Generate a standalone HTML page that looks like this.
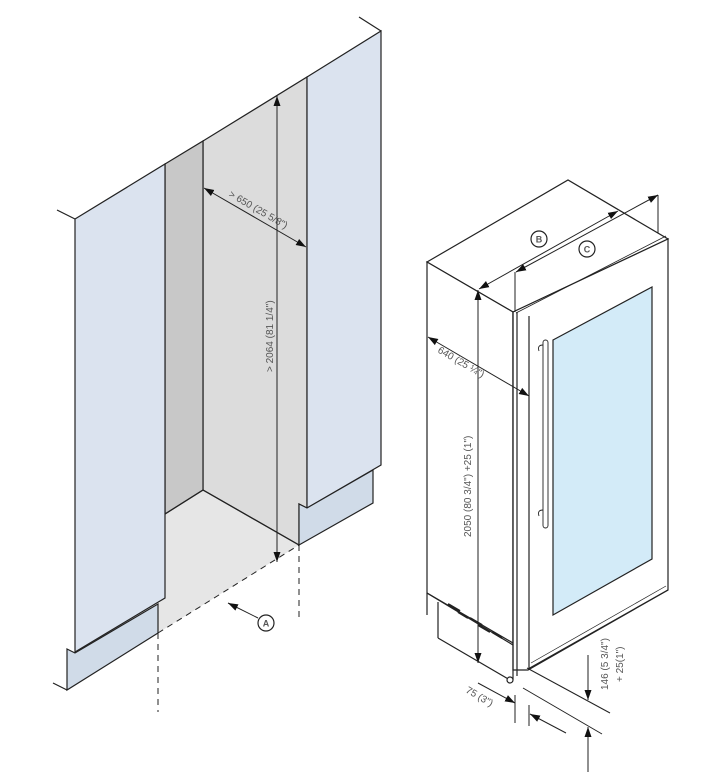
<!DOCTYPE html>
<html><head><meta charset="utf-8"><style>html,body{margin:0;padding:0;background:#fff}svg{display:block}text{font-family:"Liberation Sans",sans-serif;fill:#555}</style></head><body>
<svg width="720" height="784" viewBox="0 0 720 784" xmlns="http://www.w3.org/2000/svg">
<defs>
<marker id="ah" viewBox="0 0 10 10" refX="10" refY="5" markerWidth="10" markerHeight="10" markerUnits="userSpaceOnUse" orient="auto-start-reverse"><path d="M0,1.5 L10,5 L0,8.5 z" fill="#111"/></marker>
</defs>
<g stroke="#222" stroke-width="1.2" fill="none">
<polygon points="165,514 203,490 299,545 158,633 158,604 165,598" fill="#e6e6e6" stroke="none"/>
<polygon points="203,141 307,77 307,508 299,504 299,545 203,490" fill="#dcdcdc"/>
<polygon points="165,164 203,141 203,490 165,514" fill="#c8c8c8"/>
<polygon points="307,77 381,31 381,465 307,508" fill="#dbe3ef"/>
<polygon points="299,504 307,508 373,470 373,503 299,545" fill="#d0dbe8"/>
<polygon points="75,219 165,164 165,598 75,652" fill="#dbe3ef"/>
<polygon points="67,649 75,653 158,604 158,633 67,690" fill="#d0dbe8"/>
<line x1="57" y1="210" x2="75" y2="219"/>
<line x1="359" y1="17" x2="381" y2="31"/>
<line x1="53" y1="683" x2="67" y2="690"/>
<line x1="203" y1="490" x2="299" y2="545"/>
<line x1="165" y1="514" x2="203" y2="490"/>
<g stroke-dasharray="6,5" stroke-width="1">
<line x1="158" y1="633" x2="299" y2="545"/>
<line x1="158" y1="633" x2="158" y2="712"/>
<line x1="299" y1="545" x2="299" y2="620"/>
</g>
<line x1="277" y1="96" x2="277" y2="562" stroke-width="1" marker-start="url(#ah)" marker-end="url(#ah)"/>
<line x1="204" y1="188" x2="306" y2="247" stroke-width="1" marker-start="url(#ah)" marker-end="url(#ah)"/>
<line x1="258" y1="618" x2="228" y2="603" stroke-width="1" marker-end="url(#ah)"/>
<circle cx="266" cy="623" r="8" fill="#fff"/>

<polygon points="427,262 568,180 668,239 513,312" fill="#fff"/>
<polygon points="427,262 513,312 513,645 427,593" fill="#fff"/>
<polygon points="513,312 668,239 668,590 528,670 513,670" fill="#fff"/>
<line x1="513" y1="312" x2="513" y2="680"/>
<line x1="517" y1="312" x2="517" y2="676"/>
<line x1="529" y1="316" x2="529" y2="668"/>
<line x1="516" y1="313" x2="666" y2="236" stroke-width="0.8"/>
<line x1="528" y1="669" x2="668" y2="590"/>
<line x1="531" y1="663" x2="666" y2="586" stroke-width="0.7"/>
<polygon points="553,340 652,287 652,559 553,615" fill="#d3ebf8"/>
<rect x="543" y="340" width="5" height="188" rx="2.5" fill="#fff" stroke-width="0.9"/>
<path d="M543,345 q-6,0 -4,6 M543,510 q-6,0 -4,6" stroke-width="0.9"/>
<line x1="427" y1="593" x2="427" y2="615"/>
<line x1="438" y1="602" x2="438" y2="638"/>
<line x1="438" y1="638" x2="510" y2="680"/>
<line x1="427" y1="593" x2="513" y2="643"/>
<path d="M448,604 l12,7 M458,612 l10,6 M470,618 l12,7 M478,625 l12,7 M492,632 l10,6" stroke-width="2"/>
<circle cx="510" cy="680" r="3" fill="#fff"/>
<line x1="478" y1="290" x2="478" y2="663" stroke-width="1" marker-start="url(#ah)" marker-end="url(#ah)"/>
<line x1="428" y1="337" x2="529" y2="396" stroke-width="1" marker-start="url(#ah)" marker-end="url(#ah)"/>
<line x1="479" y1="289" x2="618" y2="211" stroke-width="1" marker-start="url(#ah)" marker-end="url(#ah)"/>
<line x1="516" y1="272" x2="658" y2="195" stroke-width="1" marker-start="url(#ah)" marker-end="url(#ah)"/>
<line x1="658" y1="195" x2="658" y2="233" stroke-width="1"/>
<line x1="515" y1="272" x2="515" y2="312" stroke-width="1"/>
<circle cx="539" cy="239" r="8" fill="#fff"/>
<circle cx="587" cy="249" r="8" fill="#fff"/>
<line x1="478" y1="683" x2="515" y2="703" stroke-width="1" marker-end="url(#ah)"/>
<line x1="515" y1="695" x2="515" y2="723" stroke-width="1"/>
<line x1="529" y1="705" x2="529" y2="726" stroke-width="1"/>
<line x1="566" y1="733" x2="530" y2="714" stroke-width="1" marker-end="url(#ah)"/>
<line x1="523" y1="688" x2="602" y2="734" stroke-width="1"/>
<line x1="527" y1="668" x2="610" y2="713" stroke-width="1"/>
<line x1="588" y1="655" x2="588" y2="700" stroke-width="1" marker-end="url(#ah)"/>
<line x1="588" y1="772" x2="588" y2="727" stroke-width="1" marker-end="url(#ah)"/>
</g>
<g font-size="10">
<text x="266" y="626.5" font-weight="bold" fill="#222" font-size="9" text-anchor="middle">A</text>
<text x="539" y="242.5" font-weight="bold" fill="#222" font-size="9" text-anchor="middle">B</text>
<text x="587" y="252.5" font-weight="bold" fill="#222" font-size="9" text-anchor="middle">C</text>
<text transform="translate(228,196) rotate(30)">&gt; 650 (25 5/8")</text>
<text transform="translate(273,372) rotate(-90)">&gt; 2064 (81 1/4")</text>
<text transform="translate(437,352) rotate(30)">640 (25 ¼")</text>
<text transform="translate(471,537) rotate(-90)">2050 (80 3/4") +25 (1")</text>
<text transform="translate(465,692) rotate(30)">75 (3")</text>
<text transform="translate(608,690) rotate(-90)">146 (5 3/4")</text>
<text transform="translate(623,682) rotate(-90)">+ 25(1")</text>
</g>
</svg>
</body></html>
